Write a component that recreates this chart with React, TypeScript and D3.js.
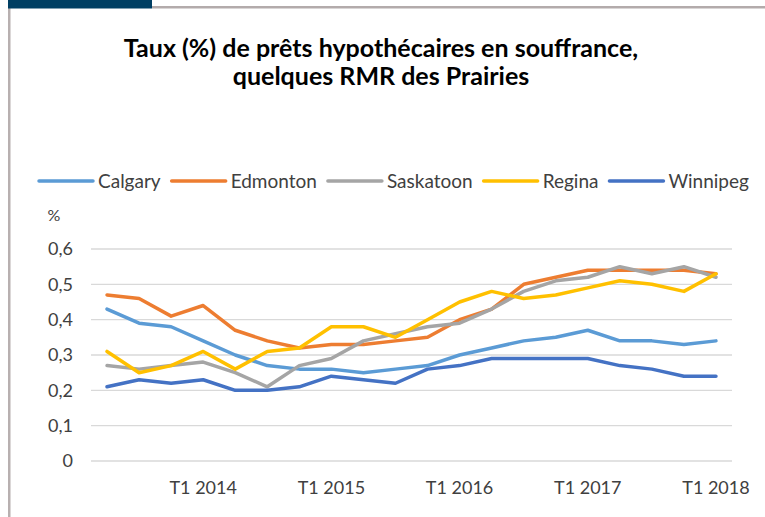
import * as d3 from "d3";
import { useEffect, useRef } from "react";

const quarters = [
  "T2 2013", "T3 2013", "T4 2013",
  "T1 2014", "T2 2014", "T3 2014", "T4 2014",
  "T1 2015", "T2 2015", "T3 2015", "T4 2015",
  "T1 2016", "T2 2016", "T3 2016", "T4 2016",
  "T1 2017", "T2 2017", "T3 2017", "T4 2017",
  "T1 2018",
];

const calgary = [0.43, 0.39, 0.38, 0.34, 0.30, 0.27, 0.26, 0.26, 0.25, 0.26, 0.27, 0.30, 0.32, 0.34, 0.35, 0.37, 0.34, 0.34, 0.33, 0.34];
const edmonton = [0.47, 0.46, 0.41, 0.44, 0.37, 0.34, 0.32, 0.33, 0.33, 0.34, 0.35, 0.40, 0.43, 0.50, 0.52, 0.54, 0.54, 0.54, 0.54, 0.53];
const saskatoon = [0.27, 0.26, 0.27, 0.28, 0.25, 0.21, 0.27, 0.29, 0.34, 0.36, 0.38, 0.39, 0.43, 0.48, 0.51, 0.52, 0.55, 0.53, 0.55, 0.52];
const regina = [0.31, 0.25, 0.27, 0.31, 0.26, 0.31, 0.32, 0.38, 0.38, 0.35, 0.40, 0.45, 0.48, 0.46, 0.47, 0.49, 0.51, 0.50, 0.48, 0.53];
const winnipeg = [0.21, 0.23, 0.22, 0.23, 0.20, 0.20, 0.21, 0.24, 0.23, 0.22, 0.26, 0.27, 0.29, 0.29, 0.29, 0.29, 0.27, 0.26, 0.24, 0.24];

const seriesNames = ["Calgary", "Edmonton", "Saskatoon", "Regina", "Winnipeg"];
const seriesValues = [calgary, edmonton, saskatoon, regina, winnipeg];
const seriesColors = ["#5b9bd5", "#ed7d31", "#a5a5a5", "#ffc000", "#4472c4"];

const yTicks = [0, 0.1, 0.2, 0.3, 0.4, 0.5, 0.6];

export default function App() {
  const ref = useRef<SVGSVGElement | null>(null);

  useEffect(() => {
    const el = ref.current;
    if (!el) return;
    const svg = d3.select(el);
    svg.selectAll("*").remove();

    const W = 765;
    const H = 517;
    const font = "Lato, 'Open Sans', sans-serif";
    const textColor = "#404040";
    const left = 91;
    const right = 732;
    const top = 249;
    const bottom = 461;

    svg.attr("width", W).attr("height", H).attr("viewBox", `0 0 ${W} ${H}`);

    // frame decoration
    svg.append("rect").attr("x", 0).attr("y", 0).attr("width", W).attr("height", H).attr("fill", "#fff");
    svg.append("rect").attr("x", 152).attr("y", 6).attr("width", W - 152).attr("height", 2.5).attr("fill", "#b3abab");
    svg.append("rect").attr("x", 8).attr("y", 0).attr("width", 2.5).attr("height", H).attr("fill", "#b8b0b0");
    svg.append("rect").attr("x", 8).attr("y", 0).attr("width", 144).attr("height", 8.5).attr("fill", "#003f63");

    // title
    const title = svg
      .append("text")
      .attr("text-anchor", "middle")
      .attr("font-family", font)
      .attr("font-weight", "bold")
      .attr("font-size", 25)
      .attr("fill", "#000");
    title.append("tspan").attr("x", 381).attr("y", 57).text("Taux (%) de prêts hypothécaires en souffrance,");
    title.append("tspan").attr("x", 381).attr("y", 85).text("quelques RMR des Prairies");

    const x = d3.scalePoint<string>().domain(quarters).range([left, right]).padding(0.5);
    const y = d3.scaleLinear().domain([0, 0.6]).range([bottom, top]);

    // gridlines
    svg
      .append("g")
      .selectAll("line")
      .data(yTicks)
      .join("line")
      .attr("x1", left)
      .attr("x2", right)
      .attr("y1", (d) => y(d))
      .attr("y2", (d) => y(d))
      .attr("stroke", "#d9d9d9")
      .attr("stroke-width", 1.3);

    // y labels
    svg
      .append("g")
      .selectAll("text")
      .data(yTicks)
      .join("text")
      .attr("x", 73)
      .attr("y", (d) => y(d))
      .attr("dy", "0.36em")
      .attr("text-anchor", "end")
      .attr("font-family", font)
      .attr("font-size", 18)
      .attr("fill", textColor)
      .text((d) => (d === 0 ? "0" : d3.format(".1f")(d).replace(".", ",")));

    svg
      .append("text")
      .attr("x", 54)
      .attr("y", 221)
      .attr("text-anchor", "middle")
      .attr("font-family", font)
      .attr("font-size", 16)
      .attr("fill", textColor)
      .text("%");

    // x labels
    svg
      .append("g")
      .selectAll("text")
      .data(quarters.filter((q) => q.startsWith("T1")))
      .join("text")
      .attr("x", (d) => x(d) ?? 0)
      .attr("y", 494)
      .attr("text-anchor", "middle")
      .attr("font-family", font)
      .attr("font-size", 18)
      .attr("fill", textColor)
      .text((d) => d);

    // lines
    const line = d3
      .line<number>()
      .x((_, i) => x(quarters[i]) ?? 0)
      .y((d) => y(d));

    svg
      .append("g")
      .selectAll("path")
      .data(seriesValues)
      .join("path")
      .attr("d", (d) => line(d))
      .attr("fill", "none")
      .attr("stroke", (_, i) => seriesColors[i])
      .attr("stroke-width", 3.5)
      .attr("stroke-linejoin", "round")
      .attr("stroke-linecap", "round");

    // legend
    const lg = svg.append("g");
    let cx = 39;
    const ly = 181;
    seriesNames.forEach((name, i) => {
      lg.append("line")
        .attr("x1", cx)
        .attr("x2", cx + 54)
        .attr("y1", ly)
        .attr("y2", ly)
        .attr("stroke", seriesColors[i])
        .attr("stroke-width", 3.5)
        .attr("stroke-linecap", "round");
      const t = lg
        .append("text")
        .attr("x", cx + 59)
        .attr("y", ly)
        .attr("dy", "0.35em")
        .attr("font-family", font)
        .attr("font-size", 19)
        .attr("fill", textColor)
        .text(name);
      const w = (t.node() as SVGTextElement).getComputedTextLength();
      cx = cx + 59 + w + 11;
    });
  }, []);

  return <svg ref={ref} style={{ position: "absolute", left: 0, top: 0 }} />;
}
